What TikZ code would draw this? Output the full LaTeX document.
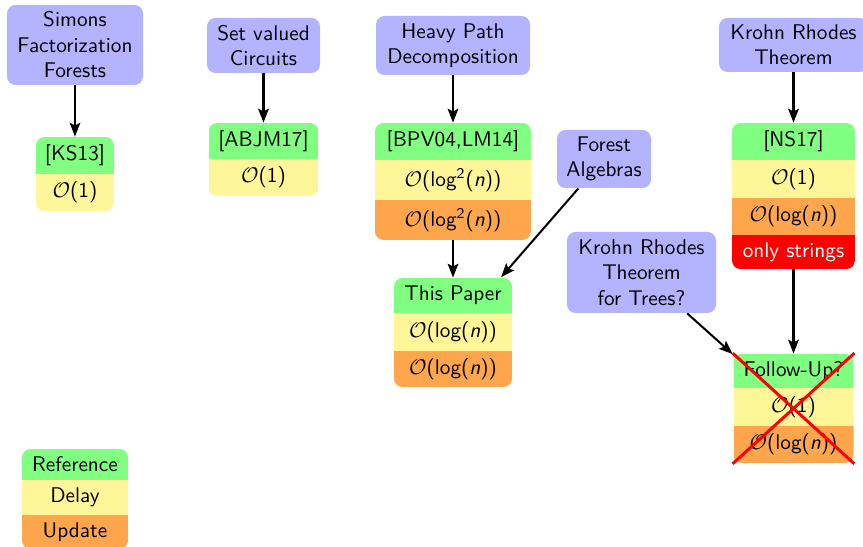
\documentclass[tikz,border=0pt]{standalone}
\usepackage{fontspec}
\usetikzlibrary{arrows.meta,fit}

% one drawing unit = one pixel of the 863 x 547 canvas
\newcommand\pxu{0.4706pt}

\definecolor{topicblue}{RGB}{179,179,255}
\definecolor{refgreen}{RGB}{128,255,128}
\definecolor{delayyellow}{RGB}{255,246,153}
\definecolor{updateorange}{RGB}{255,166,77}
\definecolor{limitred}{RGB}{255,0,0}

\tikzset{
  topic/.style={fill=topicblue, rounded corners=4pt, align=center,
                inner sep=0pt, font=\sffamily},
  cell/.style={inner sep=0pt, font=\sffamily},
  link/.style={-{Stealth[length=6.5pt,width=5pt,inset=1.3pt]}, line width=0.95pt},
  cross/.style={limitred, line width=1.4pt},
}

% \topicbox{name}{x1}{y1}{x2}{y2}{text}
\newcommand\topicbox[6]{%
  \node[topic, minimum width={(#4-#2)*\pxu}, minimum height={(#5-#3)*\pxu}]
    (#1) at ({(#2+#4)/2},{(#3+#5)/2}) {#6};}

% \stackcell{name}{colour}{x centre}{width}{y top}{y bottom}{text}
\newcommand\stackcell[7]{%
  \node[cell, fill=#2, minimum width={#4*\pxu}, minimum height={(#6-#5)*\pxu}]
    (#1) at (#3,{(#5+#6)/2}) {#7};}

% rounded outline of a stack: \stackclip{x centre}{width}{y top}{y bottom}
\newcommand\stackclip[4]{%
  \clip[rounded corners=4pt] ({#1-#2/2},#3) rectangle ({#1+#2/2},#4);}

\newcommand\bigO{$\mathcal{O}$}

\begin{document}
\begin{tikzpicture}[x=\pxu, y=-\pxu]
\clip (0,0) rectangle (863,547);
\fill[white] (0,0) rectangle (863,547);

% ---- topics ----
\topicbox{simons}{7}{5}{143}{85}{Simons\\Factorization\\Forests}
\topicbox{svc}{207}{18}{320}{73}{Set valued\\Circuits}
\topicbox{hpd}{376}{16}{530}{75}{Heavy Path\\Decomposition}
\topicbox{fa}{557}{130}{651}{188}{Forest\\Algebras}
\topicbox{krt}{719}{18}{868}{72}{Krohn Rhodes\\Theorem}
\topicbox{krtt}{567}{232}{716}{313}{Krohn Rhodes\\Theorem\\for Trees?}

% ---- result stacks ----
\begin{scope}
  \stackclip{75}{78}{137}{211}
  \stackcell{ks1}{refgreen}{75}{78}{137}{174}{[KS13]}
  \stackcell{ks2}{delayyellow}{75}{78}{174}{211}{\bigO(1)}
\end{scope}
\node[fit=(ks1)(ks2), inner sep=0pt] (ks) {};

\begin{scope}
  \stackclip{263.5}{110}{123}{196}
  \stackcell{ab1}{refgreen}{263.5}{110}{123}{159}{[ABJM17]}
  \stackcell{ab2}{delayyellow}{263.5}{110}{159}{196}{\bigO(1)}
\end{scope}
\node[fit=(ab1)(ab2), inner sep=0pt] (ab) {};

\begin{scope}
  \stackclip{453}{156}{123}{240}
  \stackcell{bp1}{refgreen}{453}{156}{123}{160}{[BPV04,LM14]}
  \stackcell{bp2}{delayyellow}{453}{156}{160}{200}{\bigO(log\textsuperscript{2}(\textit{n}))}
  \stackcell{bp3}{updateorange}{453}{156}{200}{240}{\bigO(log\textsuperscript{2}(\textit{n}))}
\end{scope}
\node[fit=(bp1)(bp3), inner sep=0pt] (bp) {};

\begin{scope}
  \stackclip{453}{118}{278}{387}
  \stackcell{tp1}{refgreen}{453}{118}{278}{313}{This Paper}
  \stackcell{tp2}{delayyellow}{453}{118}{313}{351}{\bigO(log(\textit{n}))}
  \stackcell{tp3}{updateorange}{453}{118}{351}{387}{\bigO(log(\textit{n}))}
\end{scope}
\node[fit=(tp1)(tp3), inner sep=0pt] (tp) {};

\begin{scope}
  \stackclip{793.5}{123}{123}{269}
  \stackcell{ns1}{refgreen}{793.5}{123}{123}{160}{[NS17]}
  \stackcell{ns2}{delayyellow}{793.5}{123}{160}{198}{\bigO(1)}
  \stackcell{ns3}{updateorange}{793.5}{123}{198}{235}{\bigO(log(\textit{n}))}
  \stackcell{ns4}{limitred}{793.5}{123}{235}{269}{\textcolor{white}{only strings}}
\end{scope}
\node[fit=(ns1)(ns4), inner sep=0pt] (ns) {};

\begin{scope}
  \stackclip{793.5}{120}{354}{463}
  \stackcell{fu1}{refgreen}{793.5}{120}{354}{388}{Follow-Up?}
  \stackcell{fu2}{delayyellow}{793.5}{120}{388}{426}{\bigO(1)}
  \stackcell{fu3}{updateorange}{793.5}{120}{426}{463}{\bigO(log(\textit{n}))}
\end{scope}
\node[fit=(fu1)(fu3), inner sep=0pt] (fu) {};

% ---- legend ----
\begin{scope}
  \stackclip{75}{106}{449}{549}
  \stackcell{lg1}{refgreen}{75}{106}{449}{480}{Reference}
  \stackcell{lg2}{delayyellow}{75}{106}{480}{515}{Delay}
  \stackcell{lg3}{updateorange}{75}{106}{515}{549}{Update}
\end{scope}

% ---- connectors ----
\draw[link] (simons) -- (ks1);
\draw[link] (svc) -- (ab1);
\draw[link] (hpd) -- (bp1);
\draw[link] (bp3) -- (tp1);
\draw[link] (fa) -- (tp);
\draw[link] (krt.south -| ns1.north) -- (ns1);
\draw[link] (ns4) -- (fu1);
\draw[link] (krtt) -- (fu);

% ---- struck-out follow-up ----
\draw[cross] (fu.north west) -- (fu.south east);
\draw[cross] (fu.north east) -- (fu.south west);
\end{tikzpicture}
\end{document}
